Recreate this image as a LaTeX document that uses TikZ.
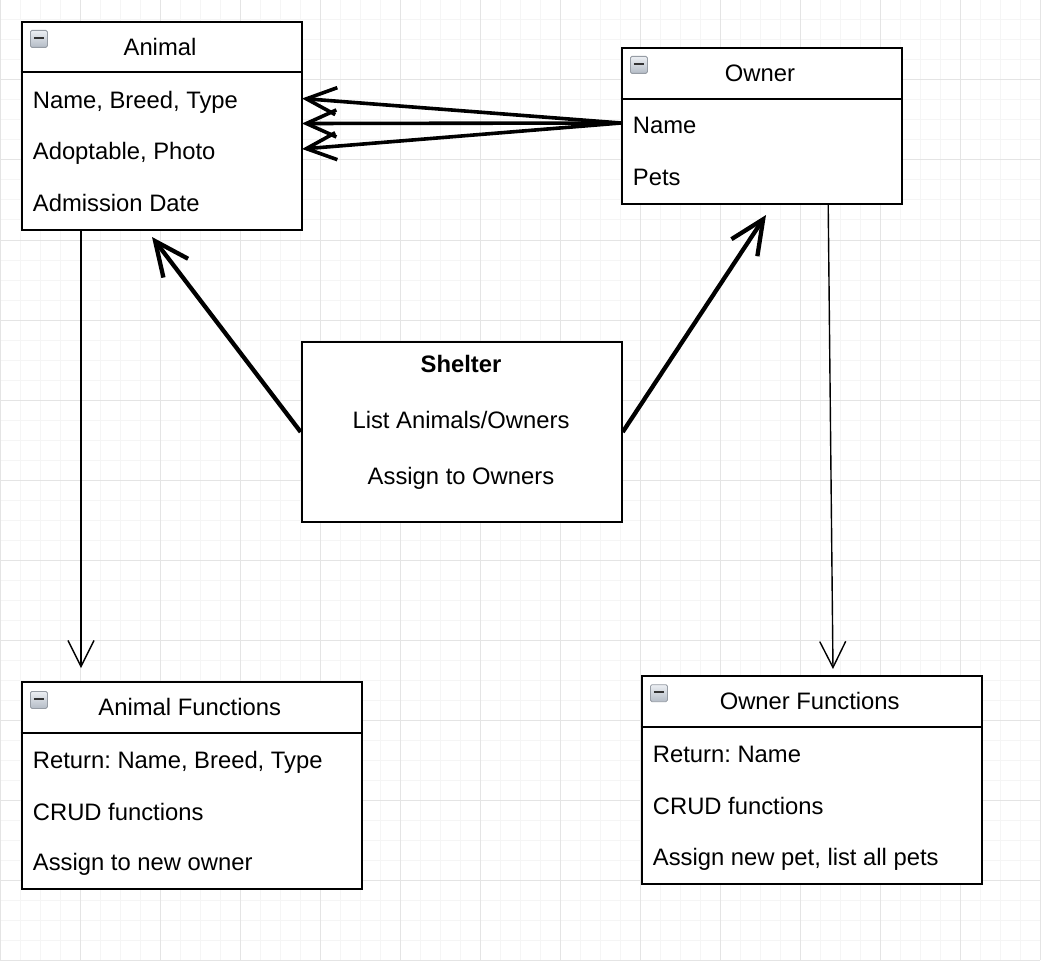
\documentclass[tikz,border=0pt]{standalone}
\usepackage{fontspec}
\setmainfont{Liberation Sans}
\usetikzlibrary{arrows.meta}
\definecolor{gridminor}{RGB}{245,245,245}
\definecolor{gridmajor}{RGB}{228,228,228}
\definecolor{icontop}{RGB}{236,239,243}
\definecolor{iconbot}{RGB}{180,188,198}
\definecolor{iconedge}{RGB}{150,156,164}
\frenchspacing
\begin{document}
\begin{tikzpicture}[x=1pt,y=-1pt,
  minorgrid/.style={line width=1pt, draw=gridminor},
  majorgrid/.style={line width=1pt, draw=gridmajor},
  box/.style={draw, line width=2pt, fill=white, anchor=north west, inner sep=0pt, rectangle},
  divline/.style={line width=2pt},
  txt/.style={font=\fontsize{23.8}{28}\selectfont, inner sep=0pt, anchor=base west},
  ttl/.style={font=\fontsize{23.8}{28}\selectfont, inner sep=0pt, anchor=base},
  icon/.style={draw=iconedge, line width=0.8pt, top color=icontop, bottom color=iconbot,
    rounded corners=1.5pt, minimum width=17pt, minimum height=17pt, inner sep=0pt, anchor=north west,
    path picture={\draw[line width=2.4pt, black!80] ([xshift=3.5pt,yshift=1pt]path picture bounding box.west) -- ([xshift=-3.5pt,yshift=1pt]path picture bounding box.east);}},
  fatarrow/.style={line width=3.6pt, -{Straight Barb[length=30pt,width=27pt]}},
  bigarrow/.style={line width=4.3pt, -{Straight Barb[length=34pt,width=31pt]}},
  thinarrow/.style={line width=1.4pt, -{Straight Barb[length=26pt,width=26pt]}}
]
\useasboundingbox (0,0) rectangle (1045,963);
\fill[white] (0,0) rectangle (1045,963);
% grid
\foreach \gx in {0,20,...,1040} {\draw[minorgrid] (\gx,0) -- (\gx,960);}
\foreach \gy in {0,20,...,960} {\draw[minorgrid] (0,\gy) -- (1040,\gy);}
\foreach \gx in {0,80,...,1040} {\draw[majorgrid] (\gx,0) -- (\gx,960);}
\foreach \gy in {0,80,...,960} {\draw[majorgrid] (0,\gy) -- (1040,\gy);}

% ---------- Animal ----------
\node[box, minimum width=280pt, minimum height=208pt] (animal) at (20.7,21) {};
\draw[divline] ([yshift=-51.5pt]animal.north west) -- ([yshift=-51.5pt]animal.north east);
\node[icon] (animalIcon) at ([xshift=9.3pt,yshift=-9pt]animal.north west) {};
\node[ttl] (animalT) at (160,55.7) {Animal};
\node[txt] (a1) at (32.7,108.3) {Name, Breed, Type};
\node[txt] (a2) at (32.7,159.6) {Adoptable, Photo};
\node[txt] (a3) at (32.7,211.7) {Admission Date};

% ---------- Owner ----------
\node[box, minimum width=280pt, minimum height=156pt] (owner) at (620.7,46.7) {};
\draw[divline] ([yshift=-52.3pt]owner.north west) -- ([yshift=-52.3pt]owner.north east);
\node[icon] (ownerIcon) at ([xshift=9.3pt,yshift=-9.3pt]owner.north west) {};
\node[ttl] (ownerT) at (760,82) {Owner};
\node[txt] (o1) at (632.7,134) {Name};
\node[txt] (o2) at (632.7,185.7) {Pets};

% ---------- Shelter ----------
\node[box, minimum width=320pt, minimum height=180pt] (shelter) at (300.7,341) {};
\node[ttl, font=\fontsize{23.8}{28}\selectfont\bfseries] (s1) at (461,372.5) {Shelter};
\node[ttl] (s2) at (461,428.3) {List Animals/Owners};
\node[ttl] (s3) at (461,484) {Assign to Owners};

% ---------- Animal Functions ----------
\node[box, minimum width=340pt, minimum height=207.3pt] (af) at (20.7,681) {};
\draw[divline] ([yshift=-52.3pt]af.north west) -- ([yshift=-52.3pt]af.north east);
\node[icon] (afIcon) at ([xshift=9.3pt,yshift=-10pt]af.north west) {};
\node[ttl] (afT) at (189.7,715.7) {Animal Functions};
\node[txt] (af1) at (32.7,768.3) {Return: Name, Breed, Type};
\node[txt] (af2) at (32.7,820) {CRUD functions};
\node[txt] (af3) at (32.7,870.7) {Assign to new owner};

% ---------- Owner Functions ----------
\node[box, minimum width=340pt, minimum height=207.7pt] (of) at (640.7,675) {};
\draw[divline] ([yshift=-52pt]of.north west) -- ([yshift=-52pt]of.north east);
\node[icon] (ofIcon) at ([xshift=9.3pt,yshift=-9.3pt]of.north west) {};
\node[ttl] (ofT) at (809.7,709.7) {Owner Functions};
\node[txt] (of1) at (652.7,762.3) {Return: Name};
\node[txt] (of2) at (652.7,814) {CRUD functions};
\node[txt] (of3) at (652.7,865) {Assign new pet, list all pets};

% ---------- connectors ----------
\coordinate (oName) at (621,123);
\coordinate (aIn1) at (302,98.5);
\coordinate (aIn2) at (302,123.5);
\coordinate (aIn3) at (302,149);
\draw[fatarrow] (oName) -- (aIn1);
\draw[fatarrow] (oName) -- (aIn2);
\draw[fatarrow] (oName) -- (aIn3);

\coordinate (aBelow) at (152,237);
\coordinate (oBelow) at (766,215);
\draw[bigarrow] (shelter.west) -- (aBelow);
\draw[bigarrow] (shelter.east) -- (oBelow);

\coordinate (afIn) at (81,668);
\coordinate (ofIn) at (833,669);
\draw[thinarrow] ([xshift=60.3pt]animal.south west) -- (afIn);
\draw[thinarrow] ([xshift=207.5pt]owner.south west) -- (ofIn);
\end{tikzpicture}
\end{document}
